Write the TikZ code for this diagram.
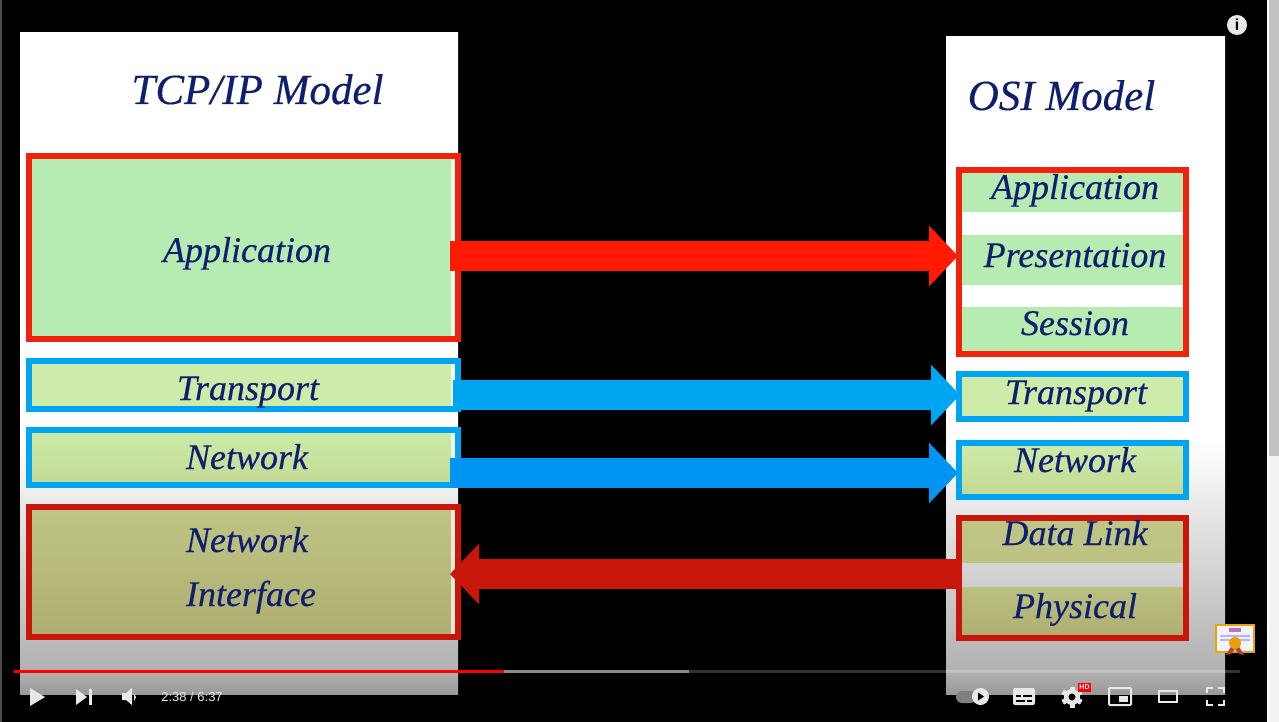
\documentclass[tikz,border=0pt]{standalone}
\usepackage{fontspec}
\setmainfont{Liberation Serif}
\setsansfont{Liberation Sans}
\newfontfamily\slideface{Liberation Serif Italic}[FakeBold=0.35]
\usetikzlibrary{arrows.meta,positioning}
\definecolor{navytext}{HTML}{0F1F6E}
\definecolor{boxred}{HTML}{F2210C}
\definecolor{lowred}{HTML}{C8170A}
\definecolor{arrowred}{HTML}{FF1A00}
\definecolor{boxblue}{HTML}{00A5F2}
\definecolor{greenA}{HTML}{B6ECB1}
\definecolor{greenB}{HTML}{CDEBA9}
\definecolor{greenC}{HTML}{C3D994}
\definecolor{oliveA}{HTML}{BFC585}
\definecolor{oliveB}{HTML}{AEAE70}
\definecolor{iconwhite}{HTML}{E8E8E8}
\pgfdeclareverticalshading{panelshade}{100bp}{color(0bp)=(black!40); color(25bp)=(black!40); color(26.8bp)=(black!30); color(28.3bp)=(black!28); color(44.2bp)=(white); color(100bp)=(white)}
\tikzset{
  panel/.style={shading=panelshade,minimum width=#1,inner sep=0pt},
  layerbox/.style={draw=#1,line width=6pt,inner sep=0pt},
  band/.style={minimum width=221pt,inner sep=0pt},
  title/.style={text=navytext,font=\fontsize{43}{43}\slideface,anchor=base},
  layer/.style={text=navytext,font=\fontsize{36}{36}\slideface,anchor=base},
  bigarrow/.style={line width=30pt,draw=#1,-{Triangle[length=29pt,width=59pt,fill=#1]}},
  icon/.style={fill=iconwhite,draw=none},
  iconline/.style={draw=iconwhite,line width=2pt}
}
\begin{document}
\begin{tikzpicture}[x=1pt,y=-1pt]
  \path[use as bounding box,fill=black] (0,0) rectangle (1279,722);
  % window edges
  \fill[black!70] (0,0) rectangle (2,722);
  \fill[white] (1267,0) rectangle (1269,722);
  \fill[black!5] (1269,0) rectangle (1279,722);
  \fill[black!24] (1269,0) rectangle (1279,456);
  % slides
  \node[panel=438pt,minimum height=661pt] (tcppanel) at (239,363.5) {};
  \node[panel=279pt,minimum height=657pt] (osipanel) at (1085.5,365.5) {};
  \node[title] (tcptitle) at (257.5,104) {TCP/IP Model};
  \node[title] (ositle) at (1061.5,110) {OSI Model};
  % TCP/IP layers
  \node[layerbox=boxred,minimum width=429pt,minimum height=183pt,top color=greenA,bottom color=greenA] (tcpapp) at (243.5,247.5) {};
  \node[layerbox=boxblue,minimum width=429pt,minimum height=48pt,top color=greenB,bottom color=greenB] (tcptrans) at (243.5,385) {};
  \node[layerbox=boxblue,minimum width=429pt,minimum height=55pt,top color=greenB,bottom color=greenC] (tcpnet) at (243.5,457.5) {};
  \node[layerbox=lowred,minimum width=429pt,minimum height=130pt,top color=oliveA,bottom color=oliveB] (tcplink) at (243.5,572) {};
  \foreach \b in {tcpapp,tcptrans,tcpnet,tcplink}
    \fill[white,opacity=.7] ([xshift=-10pt,yshift=6pt]\b.south east) rectangle ([xshift=-6pt,yshift=-6pt]\b.north east);
  \node[layer] (tcpapplabel) at (247,262) {Application};
  \node[layer] (tcptranslabel) at (248,400) {Transport};
  \node[layer] (tcpnetlabel) at (247,469) {Network};
  \node[layer] (tcplinklabel) at (247,552) {Network};
  \node[layer] (tcplinklabelb) at (251,606) {Interface};
  % OSI layers
  \node[band,minimum height=39pt,fill=greenA] (osiapp) at (1072.5,192.5) {};
  \node[band,minimum height=50pt,fill=greenA] (osipres) at (1072.5,260) {};
  \node[band,minimum height=44pt,fill=greenA!95!greenB] (osisess) at (1072.5,329) {};
  \node[band,minimum height=41pt,top color=oliveA,bottom color=oliveA!90!oliveB] (osidata) at (1072.5,541.5) {};
  \node[band,minimum height=48pt,top color=oliveA!80!oliveB,bottom color=oliveB!95!oliveA] (osiphys) at (1072.5,611) {};
  \node[layerbox=boxred,minimum width=227pt,minimum height=184pt] (osiup) at (1072.5,262) {};
  \node[layerbox=boxblue,minimum width=227pt,minimum height=45pt,top color=greenB,bottom color=greenB] (ositrans) at (1072.5,396.5) {};
  \node[layerbox=boxblue,minimum width=227pt,minimum height=54pt,top color=greenB,bottom color=greenC] (osinet) at (1072.5,470) {};
  \node[layerbox=lowred,minimum width=227pt,minimum height=120pt] (osilow) at (1072.5,578) {};
  \node[layer] (osiapplabel) at (1075,199) {Application};
  \node[layer] (osipreslabel) at (1075,267) {Presentation};
  \node[layer] (osisesslabel) at (1075,335) {Session};
  \node[layer] (ositranslabel) at (1076,404) {Transport};
  \node[layer] (osinetlabel) at (1075,472) {Network};
  \node[layer] (osidatalabel) at (1075,545) {Data Link};
  \node[layer] (osiphyslabel) at (1075,618) {Physical};
  % connectors
  \draw[bigarrow=arrowred] ([xshift=-11pt,yshift=-8.5pt]tcpapp.east) -- ([xshift=2pt,yshift=6pt]osiup.west);
  \draw[bigarrow=boxblue] ([xshift=-8pt,yshift=-10pt]tcptrans.east) -- ([xshift=4pt,yshift=1.5pt]ositrans.west);
  \draw[bigarrow=boxblue!90!blue] ([xshift=-11pt,yshift=-15.5pt]tcpnet.east) -- ([xshift=2pt,yshift=-3pt]osinet.west);
  \draw[bigarrow=lowred] ([xshift=6pt,yshift=4pt]osilow.west) -- ([xshift=-11pt,yshift=-2pt]tcplink.east);
  % certificate badge
  \fill[orange!55!yellow!90!black] (1215,624) rectangle (1255,653);
  \fill[blue!8!black!12] (1217,626) rectangle (1253,651);
  \fill[black!12!blue!5] (1217,626) rectangle (1253,651);
  \fill[violet!55] (1229,628) rectangle (1241,632);
  \foreach \y in {635,639} \fill[blue!30] (1220,\y) rectangle (1250,\y+1.5);
  \fill[red!60!black!75] (1226,655) -- (1232,645) -- (1238,645) -- (1244,655) -- (1239,654) -- (1235,649) -- (1231,654) -- cycle;
  \fill[orange!60!yellow!90!black] (1235,643) circle (6);
  % player controls
  \node[circle,fill=iconwhite,minimum size=20pt,inner sep=0pt,font=\sffamily\bfseries\fontsize{16}{16}\selectfont] (infoicon) at (1237,25) {i};
  \fill[black!45] (504,670) rectangle (689,673);
  \fill[white,opacity=.2] (689,670) rectangle (1240,673);
  \fill[red] (14,670) rectangle (504,673);
  \fill[icon] (30,688) -- (45,697) -- (30,706) -- cycle;
  \fill[icon] (76,689) -- (87,697) -- (76,705) -- cycle;
  \fill[icon] (89,689) rectangle (92,705);
  \fill[icon] (122,693) -- (126,693) -- (132,688) -- (132,705) -- (126,700) -- (122,700) -- cycle;
  \fill[icon] (134,693) -- (136,697) -- (134,701) -- cycle;
  \node[text=iconwhite,font=\sffamily\fontsize{13}{13}\selectfont] (timelabel) at (192,697) {2:38 / 6:37};
  % right hand icons
  \fill[black!50,rounded corners=6pt] (956,691) rectangle (976,703);
  \fill[icon] (980.5,696.5) circle (8.5);
  \fill[black] (978,692.5) -- (984,696.5) -- (978,700.5) -- cycle;
  \fill[icon,rounded corners=2pt] (1013,688) rectangle (1035,705);
  \foreach \xa/\xb/\ya in {1016/1021/695,1023/1032/695,1016/1025/700,1027/1032/700}
    \fill[black] (\xa,\ya) rectangle (\xb,\ya+2);
  \foreach \a in {0,60,...,300}
    \fill[icon,rotate around={\a:(1072,697)}] (1069.5,686.5) rectangle (1074.5,707.5);
  \fill[icon] (1072,697) circle (8);
  \fill[black] (1072,697) circle (3.5);
  \node[fill=red,text=white,inner sep=0pt,minimum width=13pt,minimum height=9pt,font=\sffamily\bfseries\fontsize{7}{7}\selectfont] (hdbadge) at (1084.5,687.5) {HD};
  \draw[iconline,rounded corners=1pt] (1109,688) rectangle (1131,705);
  \fill[icon] (1119,696) rectangle (1128,702);
  \draw[iconline] (1159,691) rectangle (1177,702);
  \draw[iconline] (1207,693) -- (1207,688) -- (1213,688);
  \draw[iconline] (1218,688) -- (1224,688) -- (1224,693);
  \draw[iconline] (1224,700) -- (1224,705) -- (1218,705);
  \draw[iconline] (1213,705) -- (1207,705) -- (1207,700);
\end{tikzpicture}
\end{document}
